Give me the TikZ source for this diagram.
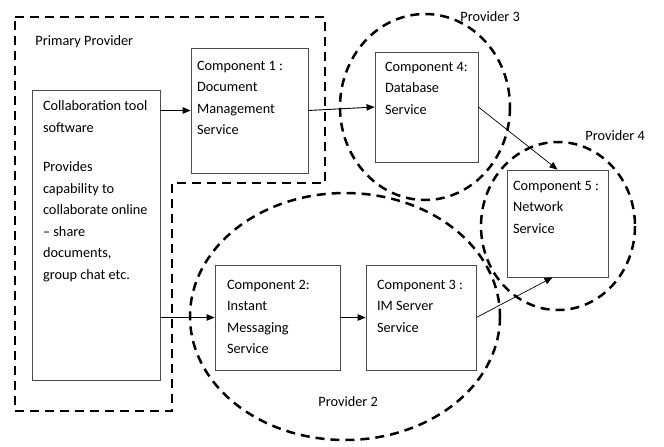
\documentclass[tikz,border=0pt]{standalone}
\usepackage{fontspec}
\setmainfont{Carlito}
\usetikzlibrary{arrows.meta,positioning}

\begin{document}
\begin{tikzpicture}[->,>={Triangle[length=8pt,width=6.5pt]},x=1pt,y=-1pt,line width=0.9pt]
\tikzstyle{every node}=[font=\fontsize{14.3}{21.5}\selectfont,inner sep=0pt]
\tikzstyle{comp}=[draw=black!70,fill=white,line width=0.8pt,minimum size=0pt]
\tikzstyle{provider}=[-,draw=black,line width=2.5pt,dash pattern=on 9pt off 6pt]
\tikzstyle{lbl}=[anchor=base west]
\tikzstyle{txt}=[align=left,anchor=north west,execute at begin node={\rule{0pt}{12pt}}]
\useasboundingbox (0,0) rectangle (664,447);

% provider boundaries
\draw [provider] (15,17) -- (325,17) -- (325,183) -- (172,183) -- (172,411) -- (15,411) -- cycle;
\draw [provider] (425,107) ellipse [x radius=85,y radius=93];
\draw [provider] (558,226) ellipse [x radius=77,y radius=84];
\draw [provider] (345,316.5) ellipse [x radius=155,y radius=123.5];

\node [lbl] (lp1) at (35,45) {Primary Provider};
\node [lbl] (lp3) at (460,21) {Provider 3};
\node [lbl] (lp4) at (585,140) {Provider 4};
\node [lbl] (lp2) at (318,406) {Provider 2};

% components
\node [comp,minimum width=128,minimum height=290] (c0) at (96,235) {};
\node [comp,minimum width=117,minimum height=125] (c1) at (249.5,110.5) {};
\node [comp,minimum width=125,minimum height=105] (c2) at (277.5,317.5) {};
\node [comp,minimum width=110,minimum height=105] (c3) at (421,317.5) {};
\node [comp,minimum width=103,minimum height=110] (c4) at (426.5,107) {};
\node [comp,minimum width=101,minimum height=107] (c5) at (557.5,223.5) {};

\node [txt] (t0) at ([shift={(11,11)}]c0.north west) {Collaboration tool\\software\\[18pt]Provides\\capability to\\collaborate online\\-- share\\documents,\\group chat etc.};
\node [txt] (t1) at ([shift={(6,13)}]c1.north west) {Component 1 :\\Document\\Management\\Service};
\node [txt] (t2) at ([shift={(12,15)}]c2.north west) {Component 2:\\Instant\\Messaging\\Service};
\node [txt] (t3) at ([shift={(11,15)}]c3.north west) {Component 3 :\\IM Server\\Service};
\node [txt] (t4) at ([shift={(10,10)}]c4.north west) {Component 4:\\Database\\Service};
\node [txt] (t5) at ([shift={(6,11)}]c5.north west) {Component 5 :\\Network\\Service};

\path (c0.east |- c1.west) edge node {} (c1.west)
      (c0.east |- c2.west) edge node {} (c2.west)
      (c2.east) edge node {} (c3.west)
      (c1.east) edge node {} (c4.west)
      (c4.east) edge [line width=0.7pt] node {} (c5.north)
      (c3.east) edge [line width=0.7pt] node {} ([xshift=-5]c5.south);
\end{tikzpicture}
\end{document}
